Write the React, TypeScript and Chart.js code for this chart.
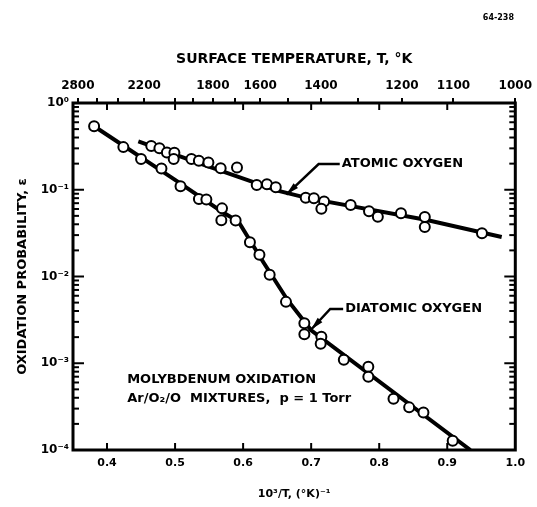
import React, { useEffect, useRef } from 'react';
import { Chart, registerables } from 'chart.js';

Chart.register(...registerables);

// ---- data ----
const DIATOMIC_X = [0.381, 0.424, 0.450, 0.480, 0.508, 0.535, 0.546, 0.569, 0.568, 0.589, 0.610, 0.624, 0.639, 0.663, 0.690, 0.690, 0.715, 0.714, 0.748, 0.784, 0.784, 0.821, 0.844, 0.865, 0.908];
const DIATOMIC_Y = [0.54, 0.31, 0.226, 0.176, 0.110, 0.078, 0.077, 0.061, 0.0445, 0.0442, 0.0248, 0.0178, 0.0105, 0.0051, 0.0029, 0.00216, 0.00202, 0.00168, 0.0011, 0.00091, 0.0007, 0.00039, 0.00031, 0.00027, 0.000128];

const ATOMIC_X = [0.465, 0.477, 0.488, 0.499, 0.498, 0.524, 0.535, 0.549, 0.567, 0.591, 0.620, 0.635, 0.648, 0.692, 0.704, 0.719, 0.715, 0.758, 0.785, 0.798, 0.832, 0.867, 0.867, 0.951];
const ATOMIC_Y = [0.319, 0.301, 0.269, 0.267, 0.226, 0.226, 0.216, 0.206, 0.177, 0.181, 0.1135, 0.116, 0.107, 0.081, 0.080, 0.073, 0.0605, 0.0667, 0.0566, 0.0489, 0.0535, 0.0485, 0.0372, 0.0315];

const DIATOMIC_FIT_X = [0.381, 0.50, 0.57, 0.593, 0.63, 0.665, 0.700, 0.934];
const DIATOMIC_FIT_Y = [0.54, 0.13, 0.055, 0.043, 0.0145, 0.0054, 0.0024, 0.0001];

const ATOMIC_FIT_X = [0.446, 0.535, 0.652, 0.695, 0.870, 0.980];
const ATOMIC_FIT_Y = [0.36, 0.203, 0.097, 0.080, 0.0448, 0.0285];

const X_TICKS = [0.4, 0.5, 0.6, 0.7, 0.8, 0.9, 1.0];
const TEMP_TICKS = [2800, 2600, 2400, 2200, 2000, 1900, 1800, 1700, 1600, 1500, 1400, 1300, 1200, 1100, 1000];
const TEMP_LABELS = [2800, 2200, 1800, 1600, 1400, 1200, 1100, 1000];
const Y_DECADES = [-4, -3, -2, -1, 0];

const SUP: Record<string, string> = { '-': '⁻', '0': '⁰', '1': '¹', '2': '²', '3': '³', '4': '⁴' };
const sup = (n: number) => String(n).split('').map((c) => SUP[c] || c).join('');

const FONT = '"DejaVu Sans", sans-serif';
const INK = '#000';

function isDecade(v: number) {
  const e = Math.log10(v);
  return Math.abs(e - Math.round(e)) < 1e-9;
}

const frameTicks = {
  id: 'frameTicks',
  afterDatasetsDraw(chart: any) {
    const { ctx, chartArea, scales } = chart;
    const { left, right, top, bottom } = chartArea;
    const line = (x1: number, y1: number, x2: number, y2: number) => {
      ctx.beginPath();
      ctx.moveTo(x1, y1);
      ctx.lineTo(x2, y2);
      ctx.stroke();
    };
    ctx.save();
    ctx.strokeStyle = INK;
    ctx.lineWidth = 2;
    scales.y.ticks.forEach((t: any) => {
      const py = scales.y.getPixelForValue(t.value);
      const len = isDecade(t.value) ? 11 : 6;
      line(left, py, left + len, py);
      line(right, py, right - len, py);
    });
    scales.x.ticks.forEach((t: any) => {
      if (t.value >= 1) return;
      const px = scales.x.getPixelForValue(t.value);
      line(px, bottom, px, bottom - 7);
      line(px, top, px, top + 7);
    });
    ctx.lineWidth = 3;
    ctx.strokeRect(left, top, right - left, bottom - top);
    ctx.restore();
  },
};

const ANNOTATIONS = [
  { text: 'ATOMIC OXYGEN', path: [[0.742, 0.198], [0.711, 0.198], [0.6635, 0.088]] },
  { text: 'DIATOMIC OXYGEN', path: [[0.747, 0.00422], [0.728, 0.00422], [0.700, 0.00245]] },
];
const NOTE_LINES = [
  { text: 'MOLYBDENUM OXIDATION', at: [0.4296, 0.00064] },
  { text: 'Ar/O₂/O  MIXTURES,  p = 1 Torr', at: [0.4296, 0.000386] },
];

const labels = {
  id: 'labels',
  afterDatasetsDraw(chart: any) {
    const { ctx, scales } = chart;
    const X = (v: number) => scales.x.getPixelForValue(v);
    const Y = (v: number) => scales.y.getPixelForValue(v);
    ctx.save();
    ctx.fillStyle = INK;
    ctx.strokeStyle = INK;
    ctx.font = `bold 13px ${FONT}`;
    ctx.textBaseline = 'middle';
    ctx.textAlign = 'left';
    ANNOTATIONS.forEach((a) => {
      const pts = a.path.map(([x, y]) => [X(x), Y(y)]);
      ctx.lineWidth = 2.5;
      ctx.beginPath();
      pts.forEach(([px, py], i) => (i ? ctx.lineTo(px, py) : ctx.moveTo(px, py)));
      ctx.stroke();
      const [x1, y1] = pts[pts.length - 2];
      const [x2, y2] = pts[pts.length - 1];
      const ang = Math.atan2(y2 - y1, x2 - x1);
      const L = 13, W = 3.2;
      ctx.beginPath();
      ctx.moveTo(x2, y2);
      ctx.lineTo(x2 - L * Math.cos(ang) + W * Math.sin(ang), y2 - L * Math.sin(ang) - W * Math.cos(ang));
      ctx.lineTo(x2 - L * Math.cos(ang) - W * Math.sin(ang), y2 - L * Math.sin(ang) + W * Math.cos(ang));
      ctx.closePath();
      ctx.fill();
      ctx.fillText(a.text, pts[0][0] + 2, pts[0][1]);
    });
    ctx.font = `bold 13px ${FONT}`;
    NOTE_LINES.forEach((n) => ctx.fillText(n.text, X(n.at[0]), Y(n.at[1])));
    ctx.font = `bold 8px ${FONT}`;
    ctx.textAlign = 'right';
    ctx.fillText('64-238', 514, 18);
    ctx.restore();
  },
};

export default function App() {
  const ref = useRef<HTMLCanvasElement>(null);
  useEffect(() => {
    document.body.style.margin = '0';
    const tickFont = (size: number) => ({ family: FONT, size, weight: 'bold' as const });
    const pointOpts = {
      showLine: false,
      pointRadius: 5,
      pointHoverRadius: 5,
      pointBackgroundColor: '#fff',
      pointBorderColor: INK,
      pointBorderWidth: 2,
      order: 0,
    };
    const lineOpts = {
      showLine: true,
      borderColor: INK,
      borderWidth: 4,
      pointRadius: 0,
      tension: 0,
      order: 1,
    };
    const yTicks: number[] = [];
    Y_DECADES.forEach((e) => {
      if (e === 0) { yTicks.push(1); return; }
      for (let k = 1; k <= 9; k++) yTicks.push(k * Math.pow(10, e));
    });
    const chart = new Chart(ref.current!, {
      type: 'scatter',
      data: {
        datasets: [
          { label: 'Diatomic oxygen', data: DIATOMIC_X.map((x, i) => ({ x, y: DIATOMIC_Y[i] })), ...pointOpts },
          { label: 'Atomic oxygen', data: ATOMIC_X.map((x, i) => ({ x, y: ATOMIC_Y[i] })), ...pointOpts },
          { label: 'Diatomic fit', data: DIATOMIC_FIT_X.map((x, i) => ({ x, y: DIATOMIC_FIT_Y[i] })), ...lineOpts },
          { label: 'Atomic fit', data: ATOMIC_FIT_X.map((x, i) => ({ x, y: ATOMIC_FIT_Y[i] })), ...lineOpts },
        ] as any,
      },
      options: {
        responsive: false,
        animation: false,
        layout: { padding: { left: 0, right: 17, top: 0, bottom: 0 } },
        plugins: { legend: { display: false }, tooltip: { enabled: false } },
        scales: {
          x: {
            type: 'linear',
            position: 'bottom',
            min: 0.35,
            max: 1.0,
            afterBuildTicks: (s: any) => { s.ticks = X_TICKS.map((v) => ({ value: v })); },
            afterFit: (s: any) => { s.height = 57; },
            ticks: {
              callback: (v: any) => Number(v).toFixed(1),
              font: tickFont(11), color: INK, padding: 7, autoSkip: false, maxRotation: 0,
            },
            grid: { display: false, drawTicks: false },
            border: { display: false },
            title: { display: true, text: '10³/T, (°K)⁻¹', color: INK, font: tickFont(11), padding: { top: 0, bottom: 6 } },
          },
          xTop: {
            type: 'linear',
            position: 'top',
            min: 0.35,
            max: 1.0,
            afterBuildTicks: (s: any) => { s.ticks = TEMP_TICKS.map((T) => ({ value: 1000 / T })); },
            afterFit: (s: any) => { s.height = 103; },
            ticks: {
              callback: (v: any) => {
                const T = Math.round(1000 / Number(v));
                return TEMP_LABELS.includes(T) ? String(T) : '';
              },
              font: tickFont(12), color: INK, padding: 5, autoSkip: false, maxRotation: 0,
            },
            grid: { drawOnChartArea: false, drawTicks: true, tickLength: 5, color: INK, lineWidth: 2 },
            border: { display: false },
            title: { display: true, text: 'SURFACE TEMPERATURE, T, °K', color: INK, font: tickFont(14), padding: { top: 51, bottom: 0 } },
          },
          y: {
            type: 'logarithmic',
            position: 'left',
            min: 1e-4,
            max: 1,
            afterBuildTicks: (s: any) => { s.ticks = yTicks.map((v) => ({ value: v })); },
            afterFit: (s: any) => { s.width = 73; },
            ticks: {
              callback: (v: any) => (isDecade(Number(v)) ? '10' + sup(Math.round(Math.log10(Number(v)))) : ''),
              font: tickFont(12), color: INK, padding: 4, autoSkip: false,
            },
            grid: { display: false, drawTicks: false },
            border: { display: false },
            title: { display: true, text: 'OXIDATION PROBABILITY, ε', color: INK, font: tickFont(13), padding: { top: 15, bottom: 0 } },
          },
        },
      } as any,
      plugins: [frameTicks, labels],
    });
    return () => chart.destroy();
  }, []);
  return <canvas ref={ref} width={537} height={507} style={{ display: 'block' }} />;
}
